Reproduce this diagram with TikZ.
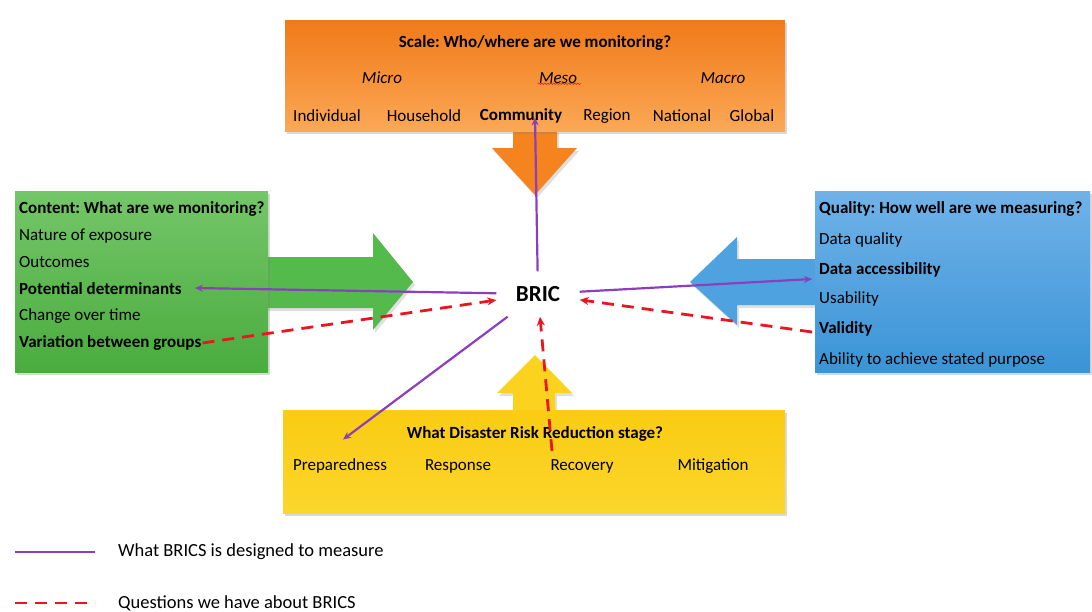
\documentclass[tikz,border=0pt]{standalone}
\usepackage{fontspec}
\setmainfont{Carlito}
\usetikzlibrary{arrows.meta,shadows,calc,decorations.pathmorphing}
\definecolor{orangetop}{RGB}{240,122,24}
\definecolor{orangebot}{RGB}{251,168,86}
\definecolor{orangearr}{RGB}{246,132,30}
\definecolor{greentop}{RGB}{116,198,104}
\definecolor{greenbot}{RGB}{74,172,62}
\definecolor{greenarr}{RGB}{84,186,76}
\definecolor{bluetop}{RGB}{112,178,232}
\definecolor{bluebot}{RGB}{58,148,214}
\definecolor{bluearr}{RGB}{78,162,224}
\definecolor{yellowtop}{RGB}{250,204,18}
\definecolor{yellowbot}{RGB}{251,214,44}
\definecolor{yellowarr}{RGB}{251,210,30}
\definecolor{bricpurple}{RGB}{140,62,190}
\definecolor{bricred}{RGB}{232,22,32}
\tikzset{
    panel/.style={drop shadow={opacity=0.3,shadow xshift=2pt,shadow yshift=-3pt}},
    bigarrow/.style={drop shadow={opacity=0.25,shadow xshift=2pt,shadow yshift=-3pt}},
    txt/.style={inner sep=1pt,font=\fontsize{17}{19}\selectfont},
    head/.style={txt,font=\fontsize{17}{19}\selectfont\bfseries},
    item/.style={txt,anchor=west},
    bitem/.style={head,anchor=west},
    designed/.style={draw=bricpurple,line width=2.2pt,-{Stealth[length=8pt,width=7pt]}},
    question/.style={draw=bricred,line width=2.8pt,dash pattern=on 12pt off 8pt,-{Stealth[length=9pt,width=8pt]}}
}
\frenchspacing
\begin{document}
\begin{tikzpicture}[x=1pt,y=-1pt]
\useasboundingbox (0,0) rectangle (1092,611);
% scale panel
\fill[bigarrow,orangearr] (513,130)--(557,130)--(557,148)--(577,148)--(535,195)--(492,148)--(513,148)--cycle;
\shade[panel,top color=orangetop,bottom color=orangebot] (285,20) rectangle (785,131);
% content panel
\fill[bigarrow,greenarr] (266,257)--(373,257)--(373,233)--(413,282)--(373,330)--(373,308)--(266,308)--cycle;
\shade[panel,top color=greentop,bottom color=greenbot] (15,191) rectangle (268,372);
% quality panel
\fill[bigarrow,bluearr] (817,259)--(737,259)--(737,237)--(690,282)--(737,325)--(737,305)--(817,305)--cycle;
\shade[panel,top color=bluetop,bottom color=bluebot] (815,191) rectangle (1090,372);
% stage panel
\fill[bigarrow,yellowarr] (513,412)--(513,393)--(497,393)--(535,355)--(572,393)--(555,393)--(555,412)--cycle;
\shade[panel,top color=yellowtop,bottom color=yellowbot] (283,410) rectangle (785,513);

\node[head] (scale) at (535,43) {Scale: Who/where are we monitoring?};
\node[txt,font=\fontsize{17}{19}\selectfont\itshape] (micro) at (382,78) {Micro};
\node[txt,font=\fontsize{17}{19}\selectfont\itshape] (meso) at (558,78) {Meso};
\node[txt,font=\fontsize{17}{19}\selectfont\itshape] (macro) at (723,78) {Macro};
\draw[bricred,line width=0.5pt,decorate,decoration={snake,amplitude=0.8pt,segment length=3pt}]
    ($(meso.south west)+(0,-1)$) -- ($(meso.south east)+(3,-1)$);
\node[txt] (individual) at (327,116) {Individual};
\node[txt] (household) at (424,116) {Household};
\node[head] (community) at (521,116) {Community};
\node[txt] (region) at (607,116) {Region};
\node[txt] (national) at (682,116) {National};
\node[txt] (global) at (752,116) {Global};

\node[bitem] (content) at (18,209) {Content: What are we monitoring?};
\node[item] (exposure) at (18,236) {Nature of exposure};
\node[item] (outcomes) at (18,262) {Outcomes};
\node[bitem] (potdet) at (18,289) {Potential determinants};
\node[item] (change) at (18,316) {Change over time};
\node[bitem] (variation) at (18,343) {Variation between groups};

\node[bitem] (quality) at (818,209) {Quality: How well are we measuring?};
\node[item] (dataqual) at (818,240) {Data quality};
\node[bitem] (dataacc) at (818,270) {Data accessibility};
\node[item] (usability) at (818,299) {Usability};
\node[bitem] (validity) at (818,329) {Validity};
\node[item] (ability) at (818,360) {Ability to achieve stated purpose};

\node[head] (stage) at (535,434) {What Disaster Risk Reduction stage?};
\node[txt] (prep) at (340,466) {Preparedness};
\node[txt] (response) at (458,466) {Response};
\node[txt] (recovery) at (582,466) {Recovery};
\node[txt] (mitigation) at (713,466) {Mitigation};

\node[minimum width=83pt,minimum height=45pt,font=\fontsize{23}{25}\selectfont\bfseries] (bric) at (538,294) {BRIC};

\coordinate (prepend) at ($(prep.north)+(3,-18)$);
\coordinate (recstart) at ($(recovery.north)+(-30,-7)$);
\draw[designed] (bric) -- ($(community.south)+(14,-7)$);
\draw[designed] (bric) -- ($(potdet.east)+(12,-1)$);
\draw[designed] (bric) -- ($(dataacc.west)+(-6,9)$);
\draw[designed] (bric) -- (prepend);
\draw[question] (variation.east) -- (bric);
\draw[question] ($(validity.west)+(-6,3)$) -- (bric);
\draw[question] (recstart) -- (bric);

% legend
\coordinate (l1a) at (15,552);
\coordinate (l1b) at (95,552);
\coordinate (l2a) at (15,603);
\coordinate (l2b) at (95,603);
\draw[designed,-] (l1a) -- (l1b);
\draw[question,-] (l2a) -- (l2b);
\node[item,font=\fontsize{18.5}{20}\selectfont] (legdesigned) at (117,552) {What BRICS is designed to measure};
\node[item,font=\fontsize{18.5}{20}\selectfont] (legquestion) at (117,603) {Questions we have about BRICS};
\end{tikzpicture}
\end{document}
